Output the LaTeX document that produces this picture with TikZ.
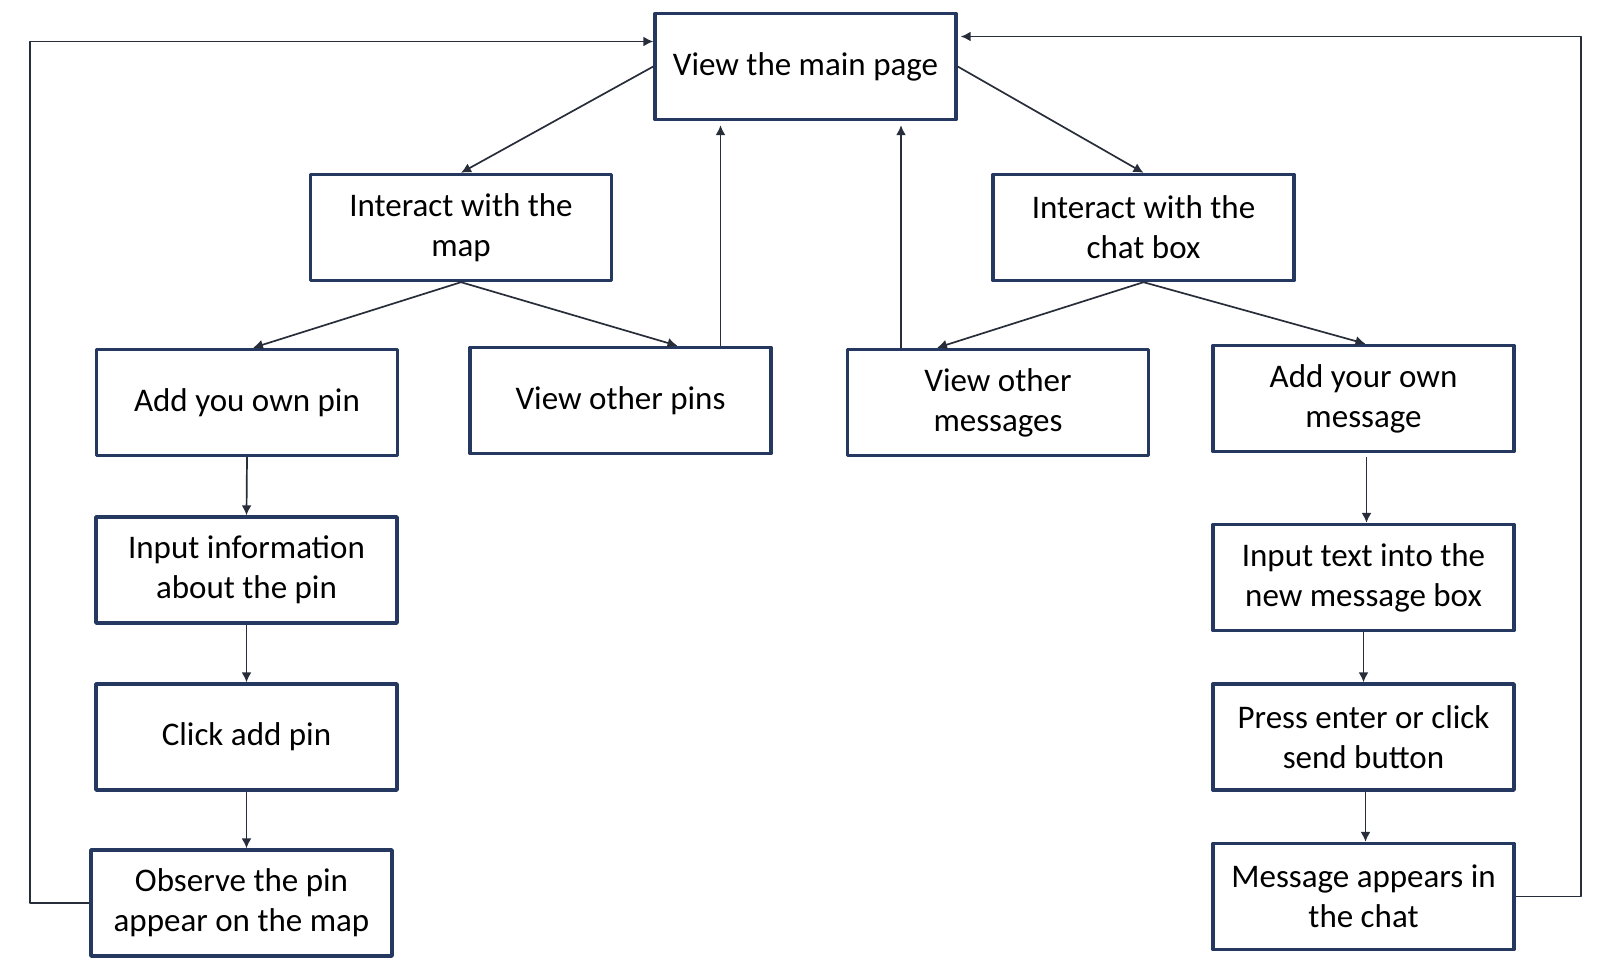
\documentclass[tikz,border=0pt]{standalone}
\usepackage{fontspec}
\setmainfont{Carlito}
\usetikzlibrary{arrows.meta}
\definecolor{boxblue}{RGB}{37,56,96}
\definecolor{linegray}{RGB}{40,45,58}
\begin{document}
\begin{tikzpicture}[x=1pt, y=-1pt, line join=round,
	box/.style={draw=boxblue, line width=3.4pt, fill=white, minimum width=301pt, minimum height=106pt, align=center, inner sep=2pt, font=\fontsize{33}{40}\selectfont},
	arr/.style={draw=linegray, line width=1.7pt, -{Latex[length=10pt,width=10pt]}}]
	% Khung hình
	\useasboundingbox (0,0) rectangle (1612,976);
	
	% Các hộp
	\node[box] (main) at (805.5,66.5) {View the main page};
	\node[box] (imap) at (461,227.5) {Interact with the\\map};
	\node[box] (ichat) at (1143.5,227.5) {Interact with the\\chat box};
	\node[box] (addpin) at (247,402.5) {Add you own pin};
	\node[box] (viewpins) at (620.5,400.5) {\raisebox{-3pt}{View other pins}};
	\node[box] (viewmsg) at (998,402.5) {View other\\messages};
	\node[box] (addmsg) at (1363.5,398.5) {Add your own\\message};
	\node[box] (inputinfo) at (246.5,570) {Input information\\about the pin};
	\node[box] (clickpin) at (246.5,737) {Click add pin};
	\node[box] (observe) at (241.5,903) {Observe the pin\\appear on the map};
	\node[box] (inputtxt) at (1363.5,577.5) {Input text into the\\new message box};
	\node[box] (press) at (1363.5,737) {Press enter or click\\send button};
	\node[box] (msg) at (1363.5,896.5) {Message appears in\\the chat};
	
	% Mũi tên từ trang chính
	\draw[arr] (main.west) -- (imap.north);
	\draw[arr] (main.east) -- (ichat.north);
	
	% Nhánh bản đồ
	\draw[arr] (imap.south) -- ([xshift=6pt]addpin.north);
	\draw[arr] (imap.south) -- ([xshift=57pt]viewpins.north);
	\draw[arr, shorten >=4pt] ([xshift=100pt]viewpins.north) -- ([xshift=100pt]viewpins.north |- main.south);
	\draw[arr] (addpin.south) -- (inputinfo.north);
	\draw[arr] (inputinfo.south) -- (clickpin.north);
	\draw[arr] (clickpin.south) -- (clickpin.south |- observe.north);
	\draw[arr] (observe.west) -- ++(-59,0) |- ([yshift=25pt]main.west);
	
	% Nhánh chat
	\draw[arr] (ichat.south) -- ([xshift=-61pt]viewmsg.north);
	\draw[arr] (ichat.south) -- ([xshift=2pt]addmsg.north);
	\draw[arr, shorten >=4pt] ([xshift=-97pt]viewmsg.north) -- ([xshift=-97pt]viewmsg.north |- main.south);
	\draw[arr, shorten <=4pt] ([xshift=3pt]addmsg.south) -- ([xshift=3pt]addmsg.south |- inputtxt.north);
	\draw[arr] (inputtxt.south) -- (press.north);
	\draw[arr] ([xshift=2pt]press.south) -- ([xshift=2pt]press.south |- msg.north);
	\draw[arr, shorten >=3pt] (msg.east) -- ++(65,0) |- ([yshift=30pt]main.east);
\end{tikzpicture}
\end{document}
